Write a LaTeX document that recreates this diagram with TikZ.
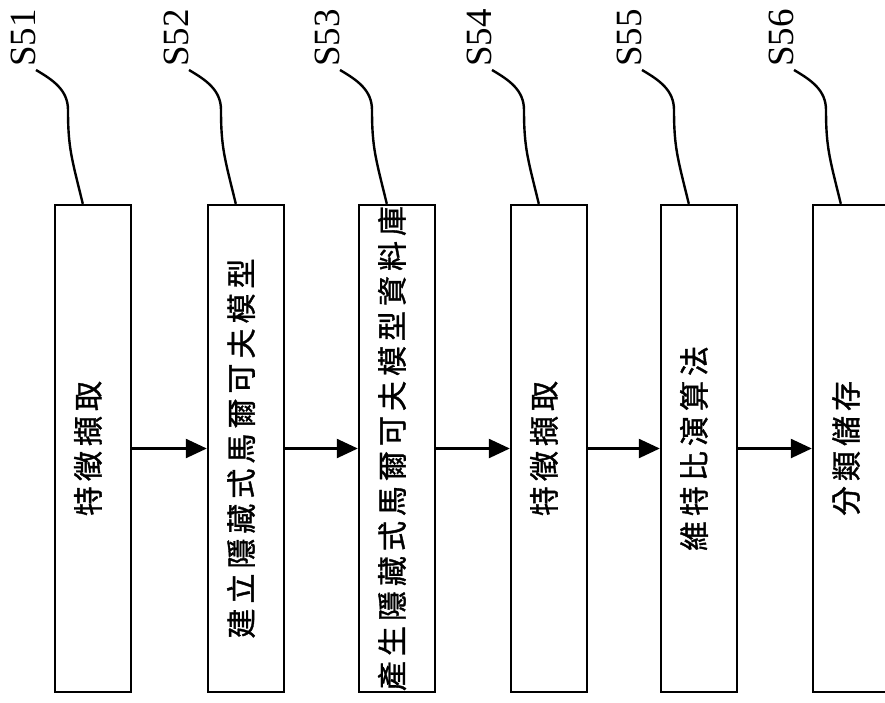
\documentclass[tikz,border=0pt]{standalone}
\usepackage{fontspec}
\setmainfont{Liberation Serif}
\newfontfamily\cjk[LetterSpace=16.7,FakeBold=1.2]{Noto Sans CJK TC}
\usetikzlibrary{arrows.meta,calc}
\begin{document}
\begin{tikzpicture}[x=1pt,y=-1pt,
  stepbox/.style={draw, line width=2.4pt, minimum width=76pt, minimum height=487pt, inner sep=0pt},
  steptext/.style={rotate=90, font=\cjk\fontsize{30pt}{30pt}\selectfont, inner sep=0pt},
  steplabel/.style={rotate=90, font=\fontsize{37pt}{37pt}\selectfont, inner sep=0pt},
  flow/.style={line width=2.4pt, -{Triangle[length=21pt,width=19pt]}},
  leader/.style={line width=2.4pt}]
\clip (0,0) rectangle (885,702);
\fill[white] (0,0) rectangle (885,702);
\foreach \i/\cx/\txt in {1/93/特徵擷取,2/246/建立隱藏式馬爾可夫模型,3/397/產生隱藏式馬爾可夫模型資料庫,4/549/特徵擷取,5/699/維特比演算法,6/851/分類儲存}{
  \node[stepbox] (b\i) at (\cx,448.5) {};
  \node[steptext] (t\i) at ([xshift=-5pt]b\i.center) {\txt};
  \node[steplabel] (L\i) at (\cx-70,38) {S5\i};
  \draw[leader] ($(L\i)+(13,32)$) .. controls ($(L\i)+(30,42)$) and ($(L\i)+(45,52)$) .. ($(L\i)+(45,72)$)
     .. controls ($(L\i)+(45,110)$) and ($(b\i.north west)+(18,-45)$) .. ($(b\i.north west)+(29,0)$);
}
\foreach \i/\j in {1/2,2/3,3/4,4/5,5/6}{
  \draw[flow] (b\i.east) -- (b\j.west);
}
\end{tikzpicture}
\end{document}
